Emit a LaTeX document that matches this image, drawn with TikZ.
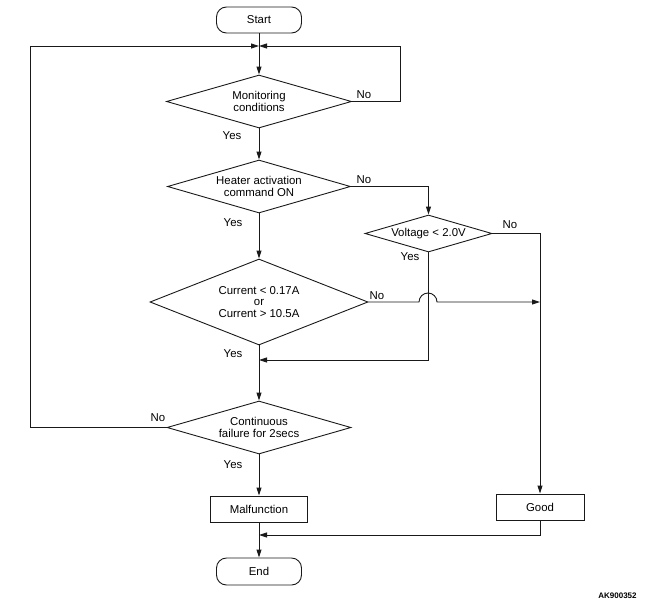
\documentclass[tikz,border=0pt]{standalone}
\usepackage{fontspec}
\setmainfont{Liberation Sans}
\usetikzlibrary{shapes.geometric,arrows.meta}
\begin{document}
\begin{tikzpicture}[x=1pt,y=-1pt,
  every node/.style={font=\fontsize{11.4}{11.4}\selectfont},
  line/.style={line width=0.9pt, draw=black!90},
  arr/.style={line, -{Triangle[length=8pt,width=5pt]}},
  dia/.style={draw=black!90, line width=0.9pt, diamond, aspect=3.5, inner sep=0pt, align=center},
  box/.style={draw=black!90, rectangle, line width=0.9pt, align=center, inner sep=0pt},
  term/.style={draw=black!90, rectangle, rounded corners=10pt, line width=0.9pt, inner sep=0pt},
  lbl/.style={inner sep=0pt}]
\useasboundingbox (0,0) rectangle (655,610);

\node[term, minimum width=85pt, minimum height=26pt] (start) at (259,20) {Start};
\node[dia, minimum width=185pt, minimum height=53pt] (d1) at (259,101.5) {Monitoring\\conditions};
\node[dia, minimum width=183pt, minimum height=53pt] (d2) at (259,186.5) {Heater activation\\command ON};
\node[dia, minimum width=127pt, minimum height=37pt] (dv) at (428.5,233.5) {Voltage < 2.0V};
\node[dia, minimum width=218pt, minimum height=86pt] (d3) at (259,302) {Current < 0.17A\\or\\Current > 10.5A};
\node[dia, minimum width=184pt, minimum height=53pt] (d4) at (259,427.5) {Continuous\\failure for 2secs};
\node[box, minimum width=97pt, minimum height=26pt] (mal) at (259,509) {Malfunction};
\node[box, minimum width=88pt, minimum height=26pt] (good) at (540,507) {Good};
\node[term, minimum width=85pt, minimum height=27pt] (end) at (259,571.5) {End};

\coordinate (m1) at (259,46);
\coordinate (lx) at (30,46);
\coordinate (rx) at (400,46);
\coordinate (m2) at (259,360);
\coordinate (m3) at (259,535);
\coordinate (jl) at (419,302);
\coordinate (gl) at (540,302);

\draw[arr] (start.south) -- (d1.north);
\draw[arr] (d4.west) -| (lx) -- (m1);
\draw[arr] (d1.east) -| (rx) -- (m1);
\draw[arr] (d1.south) -- (d2.north);
\draw[arr] (d2.east) -| (dv.north);
\draw[arr] (d2.south) -- (d3.north);
\draw[arr] (dv.east) -| (good.north);
\draw[arr] (d3.east) -- (jl) arc[start angle=180, end angle=360, radius=9] -- (gl);
\draw[arr] (dv.south) |- (m2);
\draw[arr] (d3.south) -- (d4.north);
\draw[arr] (d4.south) -- (mal.north);
\draw[arr] (good.south) |- (m3);
\draw[arr] (mal.south) -- (end.north);

\node[lbl] (n1) at (364,95) {No};
\node[lbl] (y1) at (232,136) {Yes};
\node[lbl] (n2) at (364,180) {No};
\node[lbl] (y2) at (233,223) {Yes};
\node[lbl] (nv) at (510,225) {No};
\node[lbl] (yv) at (410,257) {Yes};
\node[lbl] (n3) at (377,296) {No};
\node[lbl] (y3) at (233,354) {Yes};
\node[lbl] (n4) at (158,418) {No};
\node[lbl] (y4) at (233,465) {Yes};
\node[lbl, font=\fontsize{8}{9}\selectfont\bfseries] (code) at (617.5,596) {AK900352};
\end{tikzpicture}
\end{document}
